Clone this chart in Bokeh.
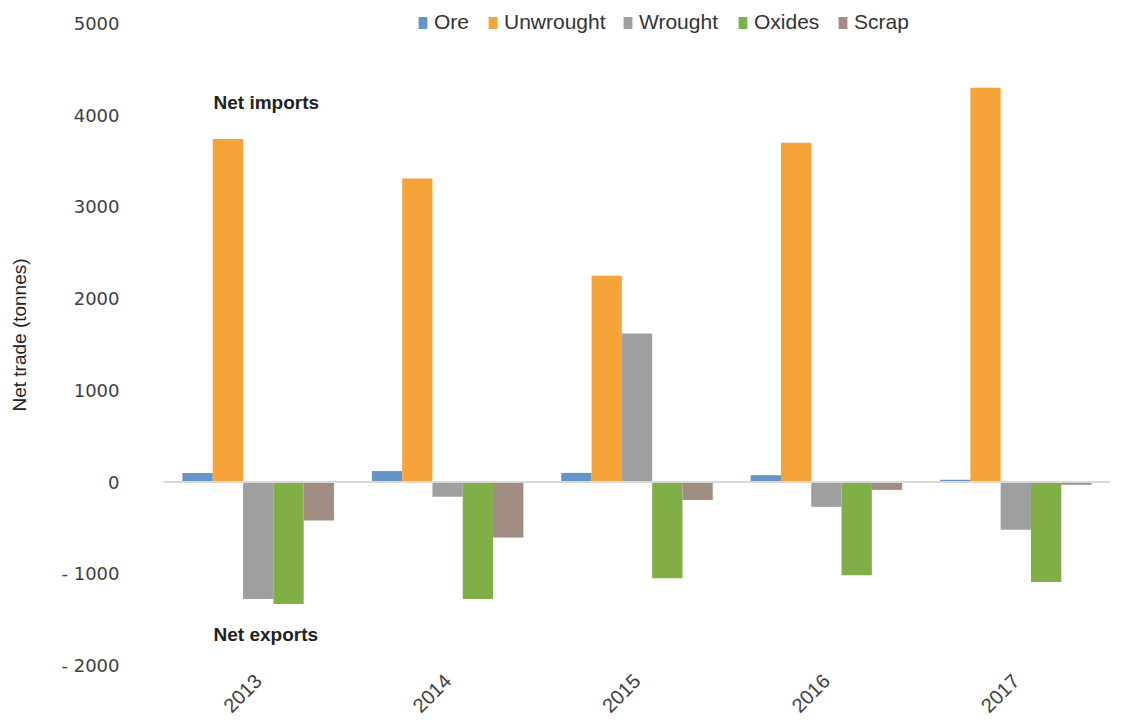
from bokeh.plotting import figure
from bokeh.models import (ColumnDataSource, FactorRange, FixedTicker, Span, Label,
                          Legend, LegendItem)
from bokeh.transform import dodge
from bokeh.embed import file_html
from bokeh.resources import INLINE
import math

years = ["2013", "2014", "2015", "2016", "2017"]
ore = [100, 120, 100, 75, 25]
unwrought = [3740, 3310, 2250, 3700, 4300]
wrought = [-1275, -160, 1620, -270, -520]
oxides = [-1330, -1275, -1050, -1015, -1090]
scrap = [-420, -605, -195, -85, -30]

series_names = ["Ore", "Unwrought", "Wrought", "Oxides", "Scrap"]
series_keys = ["ore", "unwrought", "wrought", "oxides", "scrap"]
colors = ["#6595c7", "#f6a43a", "#9e9fa1", "#80ae47", "#a18c82"]
y_ticks = [-2000, -1000, 0, 1000, 2000, 3000, 4000, 5000]

source = ColumnDataSource(dict(year=years, ore=ore, unwrought=unwrought,
                               wrought=wrought, oxides=oxides, scrap=scrap))

p = figure(x_range=FactorRange(*years, range_padding=0), y_range=(-2000, 5207),
           frame_width=947, frame_height=661, output_backend="svg",
           toolbar_location=None, min_border_left=163, min_border_top=4,
           min_border_right=4, min_border_bottom=2)
p.outline_line_color = None
p.xgrid.grid_line_color = None
p.ygrid.grid_line_color = None

bar_w = 0.16
offsets = [-0.32, -0.16, 0.0, 0.16, 0.32]
renderers = []
for key, off, col in zip(series_keys, offsets, colors):
    r = p.vbar(x=dodge("year", off, range=p.x_range), top=key, bottom=0,
               width=bar_w, source=source, fill_color=col, line_color=None)
    renderers.append(r)

p.add_layout(Span(location=0, dimension="width", line_color="#d9d9d9", line_width=2))

# axes
p.yaxis.ticker = FixedTicker(ticks=y_ticks)
p.yaxis.major_label_overrides = {t: ("- %d" % abs(t) if t < 0 else str(t)) for t in y_ticks}
p.yaxis.axis_line_color = None
p.yaxis.major_tick_line_color = None
p.yaxis.minor_tick_line_color = None
p.yaxis.major_label_text_font = "DejaVu Sans"
p.yaxis.major_label_text_font_size = "18px"
p.yaxis.major_label_text_color = "#404040"
p.yaxis.major_label_standoff = 38
p.yaxis.axis_label = "Net trade (tonnes)"
p.yaxis.axis_label_text_font = "Liberation Sans"
p.yaxis.axis_label_text_font_style = "normal"
p.yaxis.axis_label_text_font_size = "19px"
p.yaxis.axis_label_text_color = "#222222"
p.yaxis.axis_label_standoff = 28

p.xaxis.axis_line_color = None
p.xaxis.major_tick_line_color = None
p.xaxis.minor_tick_line_color = None
p.xaxis.major_label_orientation = math.pi / 4
p.xaxis.major_label_text_font = "Liberation Sans"
p.xaxis.major_label_text_font_size = "20px"
p.xaxis.major_label_text_color = "#404040"
p.xaxis.major_label_standoff = 6

# annotations
for txt, yv in [("Net imports", 4141), ("Net exports", -1663)]:
    p.add_layout(Label(x=0.264, y=yv, text=txt, text_font="Liberation Sans",
                       text_font_style="bold", text_font_size="19px",
                       text_color="#222222", text_baseline="middle"))

# legends, one per item
leg_x = [254, 324, 459, 574, 674]
for name, r, lx in zip(series_names, renderers, leg_x):
    lg = Legend(items=[LegendItem(label=name, renderers=[r])], location=(lx, 631),
                orientation="horizontal", padding=0, margin=0, border_line_color=None,
                background_fill_alpha=0, glyph_width=11, glyph_height=15,
                label_standoff=6, label_height=24, label_text_font="Liberation Sans",
                label_text_font_size="21px", label_text_color="#333333")
    p.add_layout(lg, "center")

open("out.html", "w").write(file_html(p, INLINE))
